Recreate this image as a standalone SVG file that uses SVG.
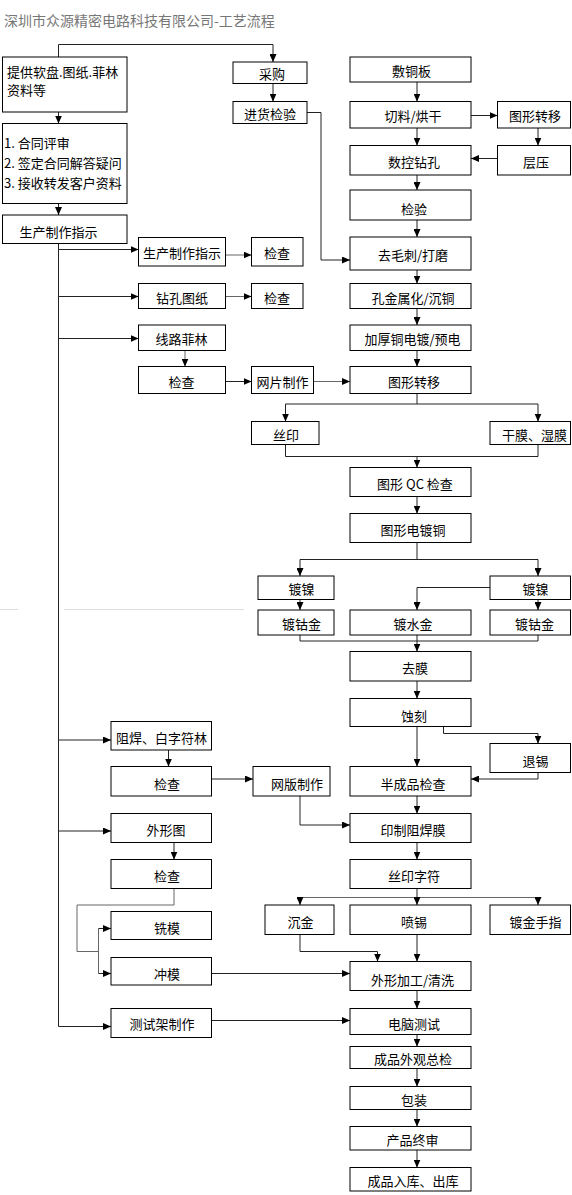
<svg xmlns="http://www.w3.org/2000/svg" width="572" height="1195" viewBox="0 0 572 1195">
<defs>
<marker id="ah" markerUnits="userSpaceOnUse" viewBox="0 0 8 7" refX="8" refY="3.5" markerWidth="8" markerHeight="7" orient="auto"><path d="M0,0 L8,3.5 L0,7 z" fill="#000"/></marker>
<style>
.b{fill:#fff;stroke:#000;stroke-width:1}
.t{font-family:"Noto Sans CJK SC","Noto Sans",sans-serif;font-size:13px;fill:#000;text-anchor:middle;dominant-baseline:central}
.l{font-family:"Noto Sans CJK SC","Noto Sans",sans-serif;font-size:13px;fill:#000}
.c{fill:none;stroke:#222;stroke-width:1}
.g{fill:none;stroke:#666;stroke-width:1}
.a{marker-end:url(#ah)}
</style>
</defs>
<rect width="572" height="1195" fill="#fff"/>
<text x="4" y="26" style="font-family:'Noto Sans CJK SC',sans-serif;font-size:14px;fill:#777">深圳市众源精密电路科技有限公司-工艺流程</text>
<g id="hr"><path d="M0,609.5 H18 M64,609.5 H244" stroke="#ddd" stroke-width="1" fill="none"/></g>

<g id="connectors">
<path class="c a" d="M58.5,57 V44.5 H273 V62"/>
<path class="c a" d="M273,83.5 V101.5"/>
<path class="c a" d="M307,112.5 H321 V260 H350"/>
<path class="c a" d="M417,82 V101.5"/>
<path class="c a" d="M471,115.5 H497.5"/>
<path class="c a" d="M538,128 V145.5"/>
<path class="c a" d="M497.5,158.5 H471"/>
<path class="c a" d="M417,128 V145.5"/>
<path class="c a" d="M417,175 V190"/>
<path class="c a" d="M417,220 V237"/>
<path class="c a" d="M417,270 V283.5"/>
<path class="c a" d="M417,308.5 V325"/>
<path class="c a" d="M417,350.5 V366.5"/>
<path class="c" d="M417,393.5 V404 M285.5,404 H538"/>
<path class="c a" d="M285.5,404 V421.5"/>
<path class="c a" d="M538,404 V421.5"/>
<path class="c" d="M285.5,444.5 V456.5 H538 V444.5"/>
<path class="c a" d="M417,456.5 V467.5"/>
<path class="c a" d="M417,496.5 V513.5"/>
<path class="c" d="M417,542.5 V559.5 M300,559.5 H538"/>
<path class="c a" d="M300,559.5 V576"/>
<path class="c a" d="M538,559.5 V576"/>
<path class="c a" d="M300,599.5 V610"/>
<path class="c a" d="M538,599.5 V610"/>
<path class="c a" d="M490,587.5 H417 V610"/>
<path class="c" d="M300,635 V641 H538 V635"/>
<path class="c a" d="M417,635 V651.5"/>
<path class="c a" d="M417,681 V698.5"/>
<path class="c a" d="M417,726.5 V766.5"/>
<path class="c a" d="M443.5,726.5 V733.5 H538 V743.5"/>
<path class="c a" d="M538,772.5 V779 H471"/>
<path class="c a" d="M417,796 V813.5"/>
<path class="c a" d="M300,796 V825 H350"/>
<path class="c a" d="M417,842.5 V859.5"/>
<path class="g" d="M300,897.5 H538"/>
<path class="c a" d="M417,888.5 V905"/>
<path class="c a" d="M300,897.5 V905"/>
<path class="c a" d="M538,897.5 V905"/>
<path class="c a" d="M300,934.5 V951.5 H377.5 V961.5"/>
<path class="c a" d="M417,934.5 V961.5"/>
<path class="c a" d="M417,990.5 V1008.5"/>
<path class="c a" d="M417,1034.5 V1046.5"/>
<path class="c a" d="M417,1068.5 V1086.5"/>
<path class="c a" d="M417,1109.5 V1126.5"/>
<path class="c a" d="M417,1150 V1167.5"/>

<path class="c a" d="M58.5,112 V123.5"/>
<path class="c a" d="M58.5,203.5 V215"/>
<path class="c a" d="M58.5,243.5 V1026.5 H111"/>
<path class="c a" d="M58.5,249.5 H138.5"/>
<path class="c a" d="M58.5,296.5 H138.5"/>
<path class="c a" d="M58.5,338.5 H138.5"/>
<path class="c a" d="M58.5,740 H111"/>
<path class="c a" d="M58.5,831 H111"/>
<path class="g a" d="M225.5,255 H251.5"/>
<path class="g a" d="M225.5,296.5 H251.5"/>
<path class="g a" d="M185,350.5 V366.5"/>
<path class="c a" d="M225.5,381.5 H251.5"/>
<path class="g a" d="M313.5,381.5 H350"/>
<path class="c a" d="M168.5,750 V766.5"/>
<path class="c a" d="M211.5,779 H253"/>
<path class="c a" d="M174,842.5 V859.5"/>
<path class="g" d="M174,888.5 V905 H77 V951.5 H98.5 M98.5,928.5 V973.5"/>
<path class="c a" d="M98.5,928.5 H111"/>
<path class="c a" d="M98.5,973.5 H111"/>
<path class="c a" d="M211.5,973.5 H350"/>
<path class="c a" d="M211.5,1020.5 H350"/>
</g>

<g id="n_a"><rect class="b" x="2.5" y="57" width="124.5" height="55"/><text class="l" x="7" y="77">提供软盘.图纸.菲林</text><text class="l" x="7" y="95">资料等</text></g>
<g id="n_b"><rect class="b" x="2.5" y="123.5" width="124.5" height="80"/><text class="l" x="4" y="148">1. 合同评审</text><text class="l" x="4" y="168">2. 签定合同解答疑问</text><text class="l" x="4" y="188">3. 接收转发客户资料</text></g>
<g id="n_scz"><rect class="b" x="2.5" y="215" width="124.5" height="28.5"/><text class="t" x="58.5" y="231">生产制作指示</text></g>

<g id="n_cg"><rect class="b" x="233" y="62" width="74" height="21.5"/><text class="t" x="272" y="73.5">采购</text></g>
<g id="n_jh"><rect class="b" x="233" y="101.5" width="74" height="22"/><text class="t" x="270" y="113">进货检验</text></g>

<g id="n_ftb"><rect class="b" x="350" y="57" width="121" height="25"/><text class="t" x="411.5" y="70">敷铜板</text></g>
<g id="n_ql"><rect class="b" x="350" y="101.5" width="121" height="26.5"/><text class="t" x="413" y="115.5">切料/烘干</text></g>
<g id="n_tx1"><rect class="b" x="497.5" y="101.5" width="73" height="26.5"/><text class="t" x="535" y="115.5">图形转移</text></g>
<g id="n_cy"><rect class="b" x="497.5" y="145.5" width="73" height="29.5"/><text class="t" x="536" y="161">层压</text></g>
<g id="n_sk"><rect class="b" x="350" y="145.5" width="121" height="29.5"/><text class="t" x="414" y="161">数控钻孔</text></g>
<g id="n_jy"><rect class="b" x="350" y="190" width="121" height="30"/><text class="t" x="414" y="208">检验</text></g>
<g id="n_qmc"><rect class="b" x="350" y="237" width="121" height="33"/><text class="t" x="413" y="254">去毛刺/打磨</text></g>
<g id="n_kjs"><rect class="b" x="350" y="283.5" width="121" height="25"/><text class="t" x="413" y="297">孔金属化/沉铜</text></g>
<g id="n_jht"><rect class="b" x="350" y="325" width="121" height="25.5"/><text class="t" x="412.5" y="338.5">加厚铜电镀/预电</text></g>
<g id="n_tx2"><rect class="b" x="350" y="366.5" width="121" height="27"/><text class="t" x="414" y="381">图形转移</text></g>

<g id="n_scz2"><rect class="b" x="138.5" y="237.5" width="87" height="28.5"/><text class="t" x="182" y="252.5">生产制作指示</text></g>
<g id="n_jc1"><rect class="b" x="251.5" y="237.5" width="51.5" height="28.5"/><text class="t" x="277" y="252.5">检查</text></g>
<g id="n_zk"><rect class="b" x="138.5" y="283.5" width="87" height="25"/><text class="t" x="182" y="297">钻孔图纸</text></g>
<g id="n_jc2"><rect class="b" x="251.5" y="283.5" width="51.5" height="25"/><text class="t" x="277" y="297">检查</text></g>
<g id="n_xl"><rect class="b" x="138.5" y="325" width="87" height="25.5"/><text class="t" x="181.5" y="338.5">线路菲林</text></g>
<g id="n_jc3"><rect class="b" x="138.5" y="366.5" width="87" height="27"/><text class="t" x="181.5" y="381">检查</text></g>
<g id="n_wp"><rect class="b" x="251.5" y="366.5" width="62" height="27"/><text class="t" x="282.5" y="381">网片制作</text></g>

<g id="n_sy"><rect class="b" x="251.5" y="421.5" width="67.5" height="23"/><text class="t" x="286" y="434">丝印</text></g>
<g id="n_gm"><rect class="b" x="490" y="421.5" width="80.5" height="23"/><text class="t" x="534.5" y="434">干膜、湿膜</text></g>
<g id="n_qc"><rect class="b" x="350" y="467.5" width="121" height="29"/><text class="t" x="415" y="483">图形 QC 检查</text></g>
<g id="n_ddt"><rect class="b" x="350" y="513.5" width="121" height="29"/><text class="t" x="413" y="529">图形电镀铜</text></g>
<g id="n_dn1"><rect class="b" x="258" y="576" width="76" height="23.5"/><text class="t" x="301.5" y="588.5">镀镍</text></g>
<g id="n_dn2"><rect class="b" x="490" y="576" width="80.5" height="23.5"/><text class="t" x="535.5" y="588.5">镀镍</text></g>
<g id="n_dg1"><rect class="b" x="258" y="610" width="76" height="25"/><text class="t" x="301.5" y="623.5">镀钴金</text></g>
<g id="n_dsj"><rect class="b" x="350" y="610" width="121" height="25"/><text class="t" x="413" y="623.5">镀水金</text></g>
<g id="n_dg2"><rect class="b" x="490" y="610" width="80.5" height="25"/><text class="t" x="534.5" y="623.5">镀钴金</text></g>
<g id="n_qm"><rect class="b" x="350" y="651.5" width="121" height="29.5"/><text class="t" x="415" y="667.5">去膜</text></g>
<g id="n_sk2"><rect class="b" x="350" y="698.5" width="121" height="28"/><text class="t" x="414" y="715">蚀刻</text></g>
<g id="n_tx"><rect class="b" x="490" y="743.5" width="80.5" height="29"/><text class="t" x="535.5" y="760">退锡</text></g>
<g id="n_bcp"><rect class="b" x="350" y="766.5" width="121" height="29.5"/><text class="t" x="413" y="783">半成品检查</text></g>

<g id="n_zh"><rect class="b" x="111" y="721.5" width="100.5" height="28.5"/><text class="t" x="161.5" y="737">阻焊、白字符林</text></g>
<g id="n_jc4"><rect class="b" x="111" y="766.5" width="100.5" height="29.5"/><text class="t" x="167" y="783">检查</text></g>
<g id="n_wb"><rect class="b" x="253" y="766.5" width="77" height="29.5"/><text class="t" x="297" y="783">网版制作</text></g>
<g id="n_zfm"><rect class="b" x="350" y="813.5" width="121" height="29"/><text class="t" x="413" y="829">印制阻焊膜</text></g>
<g id="n_wxt"><rect class="b" x="111" y="813.5" width="100.5" height="29"/><text class="t" x="166" y="829">外形图</text></g>
<g id="n_jc5"><rect class="b" x="111" y="859.5" width="100.5" height="29"/><text class="t" x="167" y="875">检查</text></g>
<g id="n_syzf"><rect class="b" x="350" y="859.5" width="121" height="29"/><text class="t" x="414" y="875">丝印字符</text></g>
<g id="n_cj"><rect class="b" x="265" y="905" width="69" height="29.5"/><text class="t" x="300.5" y="921">沉金</text></g>
<g id="n_px"><rect class="b" x="350" y="905" width="121" height="29.5"/><text class="t" x="414" y="921">喷锡</text></g>
<g id="n_djsz"><rect class="b" x="490" y="905" width="80.5" height="29.5"/><text class="t" x="535.5" y="921">镀金手指</text></g>
<g id="n_xm"><rect class="b" x="111" y="911.5" width="100.5" height="28"/><text class="t" x="167" y="927">铣模</text></g>
<g id="n_cm"><rect class="b" x="111" y="957.5" width="100.5" height="27.5"/><text class="t" x="167" y="973">冲模</text></g>
<g id="n_wxjg"><rect class="b" x="350" y="961.5" width="121" height="29"/><text class="t" x="412.5" y="979">外形加工/清洗</text></g>
<g id="n_csj"><rect class="b" x="111" y="1008.5" width="100.5" height="29"/><text class="t" x="162" y="1023.5">测试架制作</text></g>
<g id="n_dncs"><rect class="b" x="350" y="1008.5" width="121" height="26"/><text class="t" x="414" y="1023">电脑测试</text></g>
<g id="n_cpwg"><rect class="b" x="350" y="1046.5" width="121" height="22"/><text class="t" x="413" y="1058">成品外观总检</text></g>
<g id="n_bz"><rect class="b" x="350" y="1086.5" width="121" height="23"/><text class="t" x="414" y="1099">包装</text></g>
<g id="n_cpzs"><rect class="b" x="350" y="1126.5" width="121" height="23.5"/><text class="t" x="412.5" y="1139">产品终审</text></g>
<g id="n_rk"><rect class="b" x="350" y="1167.5" width="121" height="23.5"/><text class="t" x="413" y="1180">成品入库、出库</text></g>
</svg>
